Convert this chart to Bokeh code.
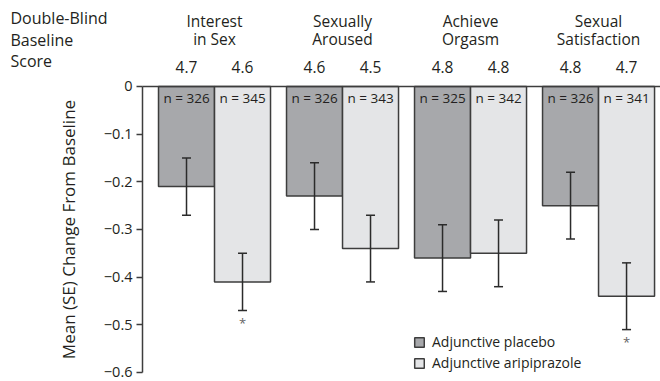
from bokeh.plotting import figure
from bokeh.models import (ColumnDataSource, Range1d, FixedTicker, Whisker, LinearAxis,
                          TeeHead, Legend, LegendItem, Label)
from bokeh.core.properties import value
from bokeh.embed import file_html
from bokeh.resources import INLINE

# --- data -------------------------------------------------------------
categories = ["Interest\nin Sex", "Sexually\nAroused", "Achieve\nOrgasm", "Sexual\nSatisfaction"]
baseline_placebo = [4.7, 4.6, 4.8, 4.8]
baseline_arip = [4.6, 4.5, 4.8, 4.7]
n_placebo = [326, 326, 325, 326]
n_arip = [345, 343, 342, 341]
mean_placebo = [-0.21, -0.23, -0.36, -0.25]
se_placebo = [0.06, 0.07, 0.07, 0.07]
mean_arip = [-0.41, -0.34, -0.35, -0.44]
se_arip = [0.06, 0.07, 0.07, 0.07]
significant_arip = [True, False, False, True]
y_ticks = [0, -0.1, -0.2, -0.3, -0.4, -0.5, -0.6]
y_tick_labels = ["0", "\u22120.1", "\u22120.2", "\u22120.3", "\u22120.4", "\u22120.5", "\u22120.6"]

FONT = "Open Sans"
TEXT = "#231f20"
DARK = "#a7a8ab"
LIGHT = "#e4e5e7"
EDGE = "#3d3d3d"

BAR_W = 0.4375
DODGE = BAR_W / 2
groups = list(range(len(categories)))

# the plotting area starts where the y axis is drawn; the space to its left
# (axis labels and the row heading) is part of the frame
X_AXIS_AT = -0.5625
X_START, X_END = -1.671875, 3.484
Y_START, Y_END = -0.6189, 0.1804


def series_source(means, ses, ns, baselines, shift):
    return ColumnDataSource(dict(
        x=[g + shift for g in groups],
        mean=means,
        upper=[m + s for m, s in zip(means, ses)],
        lower=[m - s for m, s in zip(means, ses)],
        n=[f"n = {n}" for n in ns],
        base=[f"{b:.1f}" for b in baselines],
    ))


src_p = series_source(mean_placebo, se_placebo, n_placebo, baseline_placebo, -DODGE)
src_a = series_source(mean_arip, se_arip, n_arip, baseline_arip, +DODGE)

p = figure(width=660, height=381, output_backend="svg", toolbar_location=None,
           x_range=Range1d(X_START, X_END), y_range=Range1d(Y_START, Y_END),
           x_axis_location=None, y_axis_location=None,
           min_border_left=0, min_border_right=0, min_border_top=0, min_border_bottom=0)
p.outline_line_color = None
p.xgrid.visible = False
p.ygrid.visible = False
p.background_fill_color = "white"
p.border_fill_color = "white"

# y axis, drawn at a fixed spot inside the frame
ax = LinearAxis(fixed_location=X_AXIS_AT, bounds=(-0.6, 0),
                ticker=FixedTicker(ticks=y_ticks))
ax.major_label_overrides = {t: l for t, l in zip(y_ticks, y_tick_labels)}
ax.minor_tick_line_color = None
ax.major_tick_in = 0
ax.major_tick_out = 6
ax.axis_line_color = EDGE
ax.axis_line_width = 1.5
ax.major_tick_line_color = EDGE
ax.major_tick_line_width = 1.5
ax.major_label_text_font = FONT
ax.major_label_text_font_size = "14.5px"
ax.major_label_text_color = TEXT
ax.major_label_standoff = 4
ax.axis_label = "Mean (SE) Change From Baseline"
ax.axis_label_text_font = FONT
ax.axis_label_text_font_size = "17px"
ax.axis_label_text_font_style = "normal"
ax.axis_label_text_color = TEXT
ax.axis_label_standoff = 21
p.add_layout(ax, "left")

# zero line: a bare x axis at y = 0
zero = LinearAxis(fixed_location=0, bounds=(X_AXIS_AT, X_END))
zero.axis_line_color = EDGE
zero.axis_line_width = 1.5
zero.major_tick_line_color = None
zero.minor_tick_line_color = None
zero.major_label_text_font_size = "0px"
zero.major_label_text_alpha = 0
p.add_layout(zero, "below")

# bars
r_p = p.vbar(x="x", top=0, bottom="mean", width=BAR_W, source=src_p,
             fill_color=DARK, line_color=EDGE, line_width=1.5)
r_a = p.vbar(x="x", top=0, bottom="mean", width=BAR_W, source=src_a,
             fill_color=LIGHT, line_color=EDGE, line_width=1.5)

# standard-error whiskers, drawn over the bars
for src in (src_p, src_a):
    p.add_layout(Whisker(base="x", upper="upper", lower="lower", source=src,
                         level="annotation", line_color="#2b2b2b", line_width=1.5,
                         upper_head=TeeHead(size=9, line_color="#2b2b2b", line_width=1.5),
                         lower_head=TeeHead(size=9, line_color="#2b2b2b", line_width=1.5)))

# sample sizes inside the bars, baseline scores above
for src in (src_p, src_a):
    p.text(x="x", y=0, text="n", source=src, text_font=value(FONT),
           text_font_size="13.5px", text_color=TEXT, text_align="center",
           text_baseline="top", y_offset=3)
    p.text(x="x", y=0, text="base", source=src, text_font=value(FONT),
           text_font_size="15.5px", text_color=TEXT, text_align="center",
           text_baseline="middle", y_offset=-19)

# category titles
p.text(x=groups, y=[0] * len(groups), text=categories, text_font=value(FONT),
       text_font_size="15.5px", text_color=TEXT, text_align="center",
       text_baseline="bottom", text_line_height=0.83, y_offset=-36)

# significance markers
sig_x = [x for x, s in zip(src_a.data["x"], significant_arip) if s]
sig_y = [y for y, s in zip(src_a.data["lower"], significant_arip) if s]
p.text(x=sig_x, y=sig_y, text=["*"] * len(sig_x), text_font=value(FONT),
       text_font_size="13px", text_color="#666666", text_align="center",
       text_baseline="top", y_offset=3)

# row heading on the left
p.add_layout(Label(x=10, y=0, x_units="screen", y_units="data", y_offset=14,
                   text="Double-Blind\nBaseline\nScore", text_font=FONT,
                   text_font_size="16px", text_color=TEXT, text_line_height=0.98,
                   text_baseline="bottom"))

legend = Legend(items=[LegendItem(label="Adjunctive placebo", renderers=[r_p]),
                       LegendItem(label="Adjunctive aripiprazole", renderers=[r_a])],
                location=(413, 9), padding=0, margin=0, spacing=2,
                glyph_width=12, glyph_height=12, label_height=12,
                label_standoff=7, label_text_font=FONT, label_text_font_size="14px",
                label_text_color=TEXT, border_line_alpha=0, background_fill_alpha=0)
p.add_layout(legend)

open("out.html", "w").write(file_html(p, INLINE))
